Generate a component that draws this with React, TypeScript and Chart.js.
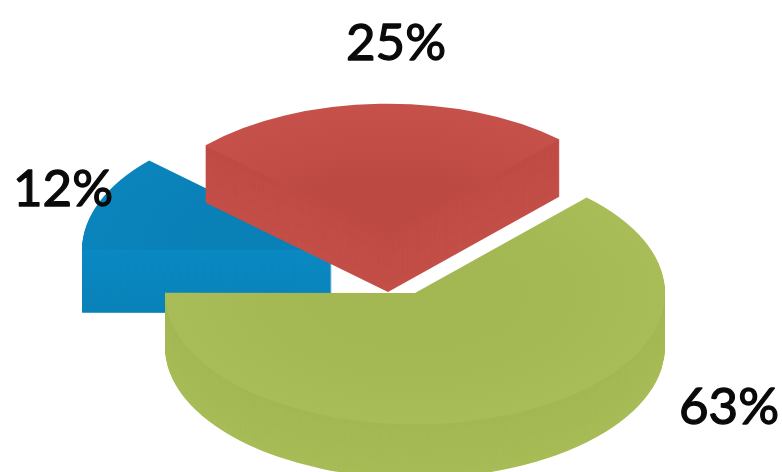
import React, { useEffect, useRef } from "react";
import { Chart, registerables } from "chart.js";

Chart.register(...registerables);

const categories = ["A", "B", "C"];
const shares = [25.1, 63, 11.9];
const shareLabels = ["25%", "63%", "12%"];
const topColors = ["#C6514A", "#A8BD57", "#0A84BC"];
const midColors = ["#BD4A42", "#A3B753", "#0980B6"];
const sideTop = ["#BF4B44", "#A3B753", "#0A89C2"];
const sideBottom = ["#C34F48", "#A7BC56", "#0A82B9"];
const sliceCenters = [
  { x: 388, y: 235 },
  { x: 415, y: 293 },
  { x: 332, y: 250 },
];
const sliceDepths = [57, 54, 63];
const labelPositions = [
  { x: 396, y: 44 },
  { x: 729, y: 408 },
  { x: 63, y: 190 },
];
const drawOrder = [2, 0, 1];
const SQUASH = 0.525;

function mix(a: string, b: string, t: number) {
  const p = (s: string) => [1, 3, 5].map((i) => parseInt(s.slice(i, i + 2), 16));
  const A = p(a);
  const B = p(b);
  return `rgb(${A.map((v, i) => Math.round(v + (B[i] - v) * t)).join(",")})`;
}

const pie3d = {
  id: "pie3d",
  beforeDatasetsDraw(chart: any) {
    const ctx = chart.ctx;
    const arcs = chart.getDatasetMeta(0).data;
    const paint = (el: any, i: number, dy: number, fill: any) => {
      const original = el.options;
      el.options = { ...original, backgroundColor: fill, borderWidth: 0, borderColor: fill };
      ctx.save();
      ctx.translate(sliceCenters[i].x, sliceCenters[i].y + dy);
      ctx.scale(1, SQUASH);
      ctx.translate(-el.x, -el.y);
      el.draw(ctx);
      ctx.restore();
      el.options = original;
    };
    for (const i of drawOrder) {
      const el = arcs[i];
      const depth = sliceDepths[i];
      for (let d = depth; d >= 1; d--) {
        paint(el, i, d, mix(sideTop[i], sideBottom[i], d / depth));
      }
      const g = ctx.createRadialGradient(el.x, el.y, 0, el.x, el.y, el.outerRadius);
      g.addColorStop(0, midColors[i]);
      g.addColorStop(0.45, midColors[i]);
      g.addColorStop(1, topColors[i]);
      paint(el, i, 0, g);
    }
    ctx.save();
    ctx.fillStyle = "#0a0a0a";
    ctx.strokeStyle = "#0a0a0a";
    ctx.lineWidth = 1.3;
    ctx.lineJoin = "round";
    ctx.font = "400 51px Lato";
    ctx.textAlign = "center";
    ctx.textBaseline = "middle";
    ctx.filter = "blur(0.5px)";
    shareLabels.forEach((t, i) => {
      ctx.fillText(t, labelPositions[i].x, labelPositions[i].y);
      ctx.strokeText(t, labelPositions[i].x, labelPositions[i].y);
    });
    ctx.restore();
    return false;
  },
};

export default function App() {
  const ref = useRef<HTMLCanvasElement>(null);
  useEffect(() => {
    document.body.style.margin = "0";
    document.body.style.background = "#fff";
    const chart = new Chart(ref.current!, {
      type: "pie",
      data: {
        labels: categories,
        datasets: [{ data: shares, backgroundColor: topColors, borderWidth: 0 }],
      },
      options: {
        responsive: false,
        animation: false,
        rotation: -47,
        radius: 250,
        plugins: { legend: { display: false }, tooltip: { enabled: false } },
      },
      plugins: [pie3d],
    } as any);
    return () => chart.destroy();
  }, []);
  return <canvas ref={ref} width={782} height={472} style={{ display: "block" }} />;
}
